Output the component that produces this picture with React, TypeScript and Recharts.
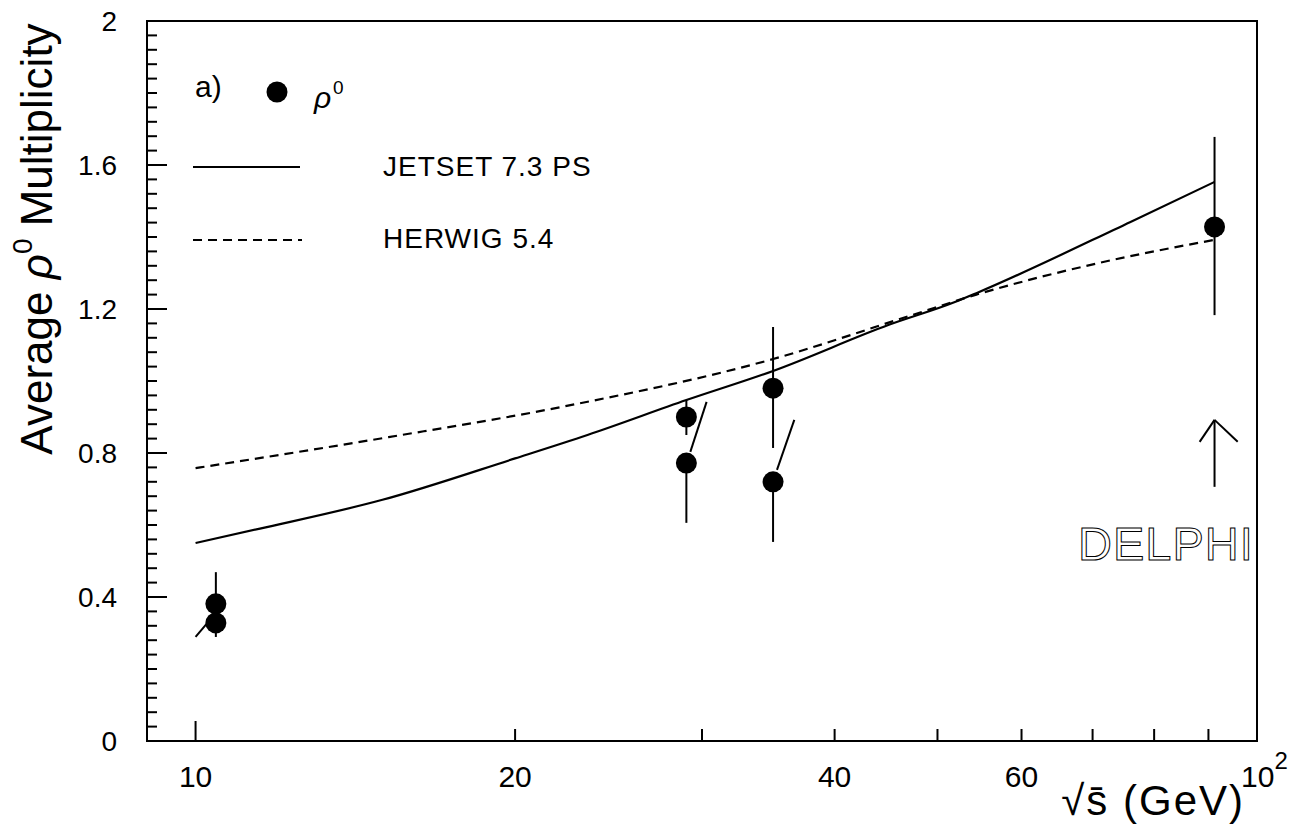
import React from "react";
import {
  ComposedChart, Line, Scatter, XAxis, YAxis, ReferenceLine, ReferenceArea,
} from "recharts";

const W = 1295;
const H = 826;
const FONT = "'Liberation Sans', Arial, sans-serif";

// JETSET 7.3 PS curve (sqrt(s) in GeV -> multiplicity)
const jetsetS = [10, 11.5, 15, 20, 23.4, 29, 35, 45, 52, 54.4, 76, 91.2];
const jetsetM = [0.55, 0.59, 0.67, 0.785, 0.85, 0.947, 1.028, 1.156, 1.22, 1.244, 1.442, 1.553];

// HERWIG 5.4 curve
const herwigS = [10, 15.2, 22.3, 35, 47.3, 54.4, 71, 91.2];
const herwigM = [0.758, 0.844, 0.93, 1.061, 1.183, 1.24, 1.328, 1.392];

// measured rho0 multiplicities
const dataS = [10.45, 10.45, 29, 29, 35, 35, 91.2];
const dataM = [0.381, 0.328, 0.9, 0.772, 0.98, 0.72, 1.428];

// vertical error bars
const errS = [10.45, 29, 29, 35, 35, 91.2];
const errLo = [0.289, 0.85, 0.606, 0.814, 0.553, 1.183];
const errHi = [0.469, 0.947, 0.772, 1.15, 0.72, 1.678];

// slanted error strokes next to the low energy points
const slantS1 = [10.0, 29.25, 35.3];
const slantM1 = [0.289, 0.803, 0.753];
const slantS2 = [10.37, 30.3, 36.65];
const slantM2 = [0.344, 0.942, 0.892];

// DELPHI arrow: shaft and the two head strokes
const arrowS = [91.2, 91.2, 88.3, 95.9];
const arrowM = [0.706, 0.892, 0.831, 0.831];

const xTicks = [10, 20, 30, 40, 50, 60, 70, 80, 90, 100];
const xLabels: Record<number, string> = { 10: "10", 20: "20", 40: "40", 60: "60" };
const yMajor = [0, 0.4, 0.8, 1.2, 1.6, 2];
const yTicks = Array.from({ length: 51 }, (_, i) => Math.round(i * 4) / 100);

const jetset = jetsetS.map((x, i) => ({ x, y: jetsetM[i] }));
const herwig = herwigS.map((x, i) => ({ x, y: herwigM[i] }));
const points = dataS.map((x, i) => ({ x, y: dataM[i] }));

function YTick({ x, y, payload }: any) {
  const v = payload.value;
  const major = yMajor.some((m) => Math.abs(m - v) < 1e-6);
  return (
    <g>
      <line x1={x} x2={x + (major ? 20 : 10)} y1={y} y2={y} stroke="#000" strokeWidth={2} />
      {major && (
        <text x={x - 30} y={y + 10} textAnchor="end" fontSize={28} fontFamily={FONT} fill="#000">
          {String(Number(v.toFixed(1)))}
        </text>
      )}
    </g>
  );
}

function XTick({ x, y, payload }: any) {
  const v = payload.value;
  const len = v === 10 || v === 100 ? 20 : 12;
  return (
    <g>
      <line x1={x} x2={x} y1={y} y2={y - len} stroke="#000" strokeWidth={2} />
      {xLabels[v] && (
        <text x={x} y={y + 46} textAnchor="middle" fontSize={30} fontFamily={FONT} fill="#000">
          {xLabels[v]}
        </text>
      )}
      {v === 100 && (
        <text x={x - 16} y={y + 46} fontSize={30} fontFamily={FONT} fill="#000">
          10<tspan dy={-18} fontSize={24}>2</tspan>
        </text>
      )}
    </g>
  );
}

function Dot(props: any) {
  return <circle cx={props.cx} cy={props.cy} r={10.5} fill="#000" />;
}

export default function App() {
  return (
    <div style={{ position: "absolute", left: 0, top: 0, width: W, height: H, background: "#fff" }}>
      <ComposedChart width={W} height={H} margin={{ top: 21, right: 38, bottom: 25, left: 87 }}>
        <XAxis
          dataKey="x"
          type="number"
          scale="log"
          domain={[9, 100]}
          allowDataOverflow
          ticks={xTicks}
          interval={0}
          tickSize={0}
          tickMargin={0}
          height={60}
          axisLine={{ stroke: "#000", strokeWidth: 2 }}
          tick={<XTick />}
        />
        <YAxis
          dataKey="y"
          type="number"
          domain={[0, 2]}
          ticks={yTicks}
          interval={0}
          tickSize={0}
          tickMargin={0}
          width={60}
          axisLine={{ stroke: "#000", strokeWidth: 2 }}
          tick={<YTick />}
        />
        <ReferenceArea x1={9} x2={100} y1={0} y2={2} fill="none" stroke="#000" strokeWidth={2} ifOverflow="visible" />
        <Line data={jetset} dataKey="y" type="monotone" stroke="#000" strokeWidth={2.2} dot={false} isAnimationActive={false} />
        <Line data={herwig} dataKey="y" type="monotone" stroke="#000" strokeWidth={2.2} strokeDasharray="9 6" dot={false} isAnimationActive={false} />
        {errS.map((s, i) => (
          <ReferenceLine key={"e" + i} segment={[{ x: s, y: errLo[i] }, { x: s, y: errHi[i] }]} stroke="#000" strokeWidth={2} />
        ))}
        {slantS1.map((s, i) => (
          <ReferenceLine key={"s" + i} segment={[{ x: s, y: slantM1[i] }, { x: slantS2[i], y: slantM2[i] }]} stroke="#000" strokeWidth={2} />
        ))}
        <ReferenceLine segment={[{ x: arrowS[0], y: arrowM[0] }, { x: arrowS[1], y: arrowM[1] }]} stroke="#000" strokeWidth={2} />
        <ReferenceLine segment={[{ x: arrowS[2], y: arrowM[2] }, { x: arrowS[1], y: arrowM[1] }]} stroke="#000" strokeWidth={2} />
        <ReferenceLine segment={[{ x: arrowS[3], y: arrowM[3] }, { x: arrowS[1], y: arrowM[1] }]} stroke="#000" strokeWidth={2} />
        <Scatter data={points} shape={<Dot />} isAnimationActive={false} />
      </ComposedChart>

      <svg width={W} height={H} style={{ position: "absolute", left: 0, top: 0, pointerEvents: "none" }}>
        <g fontFamily={FONT} fill="#000">
          <text transform="translate(52, 239) rotate(-90)" textAnchor="middle" fontSize={44}>
            Average <tspan fontStyle="italic">ρ</tspan>
            <tspan dy={-20} fontSize={28}>0</tspan>
            <tspan dy={20}> Multiplicity</tspan>
          </text>
          <text x={1245} y={815} textAnchor="end" fontSize={42} letterSpacing={2}>√s̄ (GeV)</text>

          <text x={195} y={97} fontSize={30}>a)</text>
          <circle cx={277} cy={92} r={10.5} fill="#000" />
          <text x={314} y={108} fontSize={30} fontStyle="italic">ρ</text>
          <text x={333} y={94} fontSize={19}>0</text>

          <line x1={193} x2={300} y1={167} y2={167} stroke="#000" strokeWidth={2} />
          <text x={383} y={176} fontSize={28} letterSpacing={1}>JETSET 7.3 PS</text>
          <line x1={193} x2={302} y1={240} y2={240} stroke="#000" strokeWidth={2} strokeDasharray="9 6" />
          <text x={383} y={248} fontSize={28} letterSpacing={1}>HERWIG 5.4</text>

          <text x={1078} y={560} fontSize={47} letterSpacing={1} fill="#fff" stroke="#000" strokeWidth={1}>
            DELPHI
          </text>
        </g>
      </svg>
    </div>
  );
}
